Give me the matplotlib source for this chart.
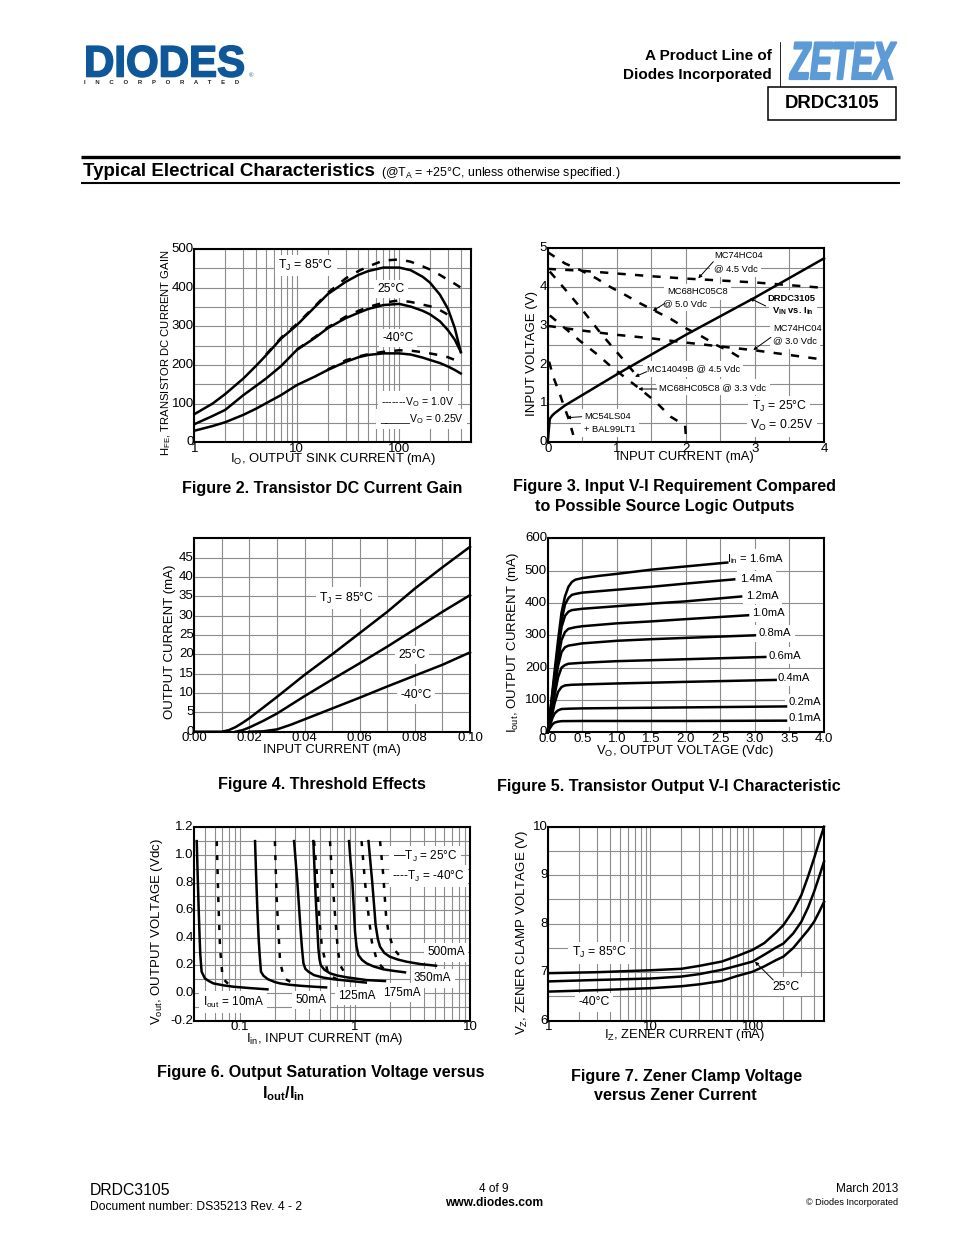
import matplotlib
matplotlib.use("Agg")
import matplotlib.pyplot as plt
from matplotlib.patches import Rectangle
from matplotlib.patheffects import AbstractPathEffect
from matplotlib.transforms import Affine2D, ScaledTranslation

plt.rcParams['font.family'] = ['Liberation Sans', 'DejaVu Sans']
plt.rcParams['mathtext.fontset'] = 'custom'
plt.rcParams['mathtext.rm'] = 'Liberation Sans'
plt.rcParams['mathtext.it'] = 'Liberation Sans:italic'
plt.rcParams['mathtext.bf'] = 'Liberation Sans:bold'
plt.rcParams['mathtext.default'] = 'regular'

W, H = 954, 1235
BLUE = '#0f5799'
LBLUE = '#5c9bd6'
GRID = '#8c8c8c'

# ---------- Figure 2 ----------
f2_x = [1, 1.5, 2, 3, 4, 5, 7, 10, 15, 20, 30, 40, 50, 70, 100, 130, 170, 200, 250, 300, 350, 400]
f2_85_s = [73, 100, 125, 165, 198, 225, 268, 303, 350, 383, 415, 433, 443, 452, 452, 445, 428, 413, 382, 345, 295, 233]
f2_25_s = [47, 68, 84, 122, 146, 165, 197, 239, 270, 295, 321, 335, 345, 355, 358, 351, 340, 331, 313, 290, 265, 234]
f2_40_s = [30, 42, 52, 71, 87, 101, 122, 148, 170, 187, 208, 220, 226, 230, 230, 227, 219, 213, 205, 196, 187, 178]
f2_85d_x = [5, 7, 10, 15, 20, 30, 40, 50, 70, 100, 130, 170, 200, 250, 300, 350, 400]
f2_85_d = [227, 270, 306, 352, 386, 424, 443, 455, 470, 473, 467, 455, 447, 433, 420, 410, 400]
f2_25d_x = [10, 15, 20, 30, 40, 50, 70, 100, 130, 170, 200, 250, 300]
f2_25_d = [240, 272, 297, 325, 340, 350, 361, 367, 363, 356, 352, 342, 330]
f2_40d_x = [20, 30, 40, 50, 70, 100, 130, 170, 200, 250, 300, 350, 400]
f2_40_d = [188, 212, 222, 228, 234, 238, 237, 233, 230, 225, 220, 213, 207]

# ---------- Figure 3 ----------
f3_drdc_x = [0, 0.01, 0.02, 0.03, 0.06, 0.1, 0.25, 1, 2, 3, 4]
f3_drdc_y = [0, 0.2, 0.4, 0.6, 0.68, 0.75, 0.95, 1.75, 2.77, 3.73, 4.74]
f3_hc45_x = [0, 0.5, 1, 1.5, 2, 2.5, 3, 3.5, 4]
f3_hc45_y = [4.47, 4.42, 4.35, 4.28, 4.22, 4.17, 4.12, 4.05, 3.98]
f3_hc30_x = [0, 0.5, 1, 1.5, 2, 2.5, 3, 3.5, 4]
f3_hc30_y = [3.0, 2.88, 2.77, 2.68, 2.57, 2.47, 2.37, 2.25, 2.13]
f3_c850_x = [0, 0.25, 0.47, 0.70, 0.90, 1.12, 1.34, 1.56, 1.78, 2.0, 2.22, 2.45, 2.64, 2.86]
f3_c850_y = [4.9, 4.61, 4.44, 4.23, 4.01, 3.80, 3.58, 3.38, 3.18, 2.94, 2.74, 2.50, 2.34, 2.10]
f3_c833_x = [0.03, 0.25, 0.47, 0.70, 0.90, 1.12, 1.34, 1.56, 1.78, 1.99, 2.0]
f3_c833_y = [3.27, 2.94, 2.61, 2.29, 1.98, 1.67, 1.37, 1.05, 0.66, 0.43, 0.15]
f3_4049_x = [0.03, 0.2, 0.4, 0.57, 0.75, 0.93, 1.12, 1.3]
f3_4049_y = [4.40, 4.05, 3.63, 3.26, 2.85, 2.47, 2.08, 1.69]
f3_ls04_x = [0.02, 0.08, 0.18, 0.23, 0.3, 0.37]
f3_ls04_y = [2.08, 1.69, 1.22, 0.96, 0.62, 0.19]

# ---------- Figure 4 ----------
f4_85_x = [0, 0.01, 0.0125, 0.015, 0.0175, 0.02, 0.03, 0.04, 0.05, 0.06, 0.07, 0.08, 0.09, 0.10]
f4_85_y = [0, 0, 0.4, 1.2, 2.3, 3.5, 9, 14.7, 20, 25.5, 31, 37, 42.5, 47.8]
f4_25_x = [0.015, 0.0175, 0.02, 0.025, 0.03, 0.04, 0.05, 0.06, 0.07, 0.08, 0.09, 0.10]
f4_25_y = [0, 0.4, 1.1, 2.8, 4.7, 9.2, 13.5, 17.7, 22, 26.5, 31, 35.3]
f4_40_x = [0.02, 0.025, 0.03, 0.035, 0.04, 0.05, 0.06, 0.07, 0.08, 0.09, 0.10]
f4_40_y = [0, 0.1, 0.6, 1.8, 3.2, 6, 8.8, 11.7, 14.5, 17.3, 20.5]

# ---------- Figure 5 ----------
f5_16_x = [0, .05, .1, .15, .2, .25, .3, .35, .4, .5, .75, 1, 1.5, 2, 2.6]
f5_16_y = [0, 90, 190, 285, 370, 420, 450, 465, 472, 477, 484, 490, 503, 513, 525]
f5_14_x = [0, .05, .1, .15, .2, .25, .3, .35, .4, .5, 1, 1.5, 2, 2.7]
f5_14_y = [0, 85, 175, 265, 345, 395, 415, 425, 428, 432, 441, 450, 460, 473]
f5_12_x = [0, .05, .1, .15, .2, .25, .3, .35, .5, 1, 1.5, 2, 2.8]
f5_12_y = [0, 80, 165, 250, 325, 360, 373, 378, 382, 390, 398, 405, 420]
f5_10_x = [0, .05, .1, .15, .2, .25, .3, .4, .5, 1, 1.5, 2, 2.9]
f5_10_y = [0, 75, 150, 225, 285, 310, 320, 325, 328, 337, 343, 350, 362]
f5_08_x = [0, .05, .1, .15, .2, .25, .3, .5, 1, 1.5, 2, 3.0]
f5_08_y = [0, 65, 135, 205, 248, 263, 268, 275, 283, 288, 292, 300]
f5_06_x = [0, .05, .1, .15, .2, .25, .3, .5, 1, 2, 3.15]
f5_06_y = [0, 55, 115, 170, 200, 208, 212, 215, 220, 226, 233]
f5_04_x = [0, .05, .1, .15, .2, .25, .35, .5, 1, 2, 3.3]
f5_04_y = [0, 40, 90, 125, 140, 145, 147, 148, 151, 156, 162]
f5_02_x = [0, .03, .07, .1, .15, .2, .3, .5, 1, 2, 3.45]
f5_02_y = [0, 20, 45, 58, 68, 72, 73, 74, 75, 77, 80]
f5_01_x = [0, .03, .07, .1, .15, .2, .5, 2, 3.45]
f5_01_y = [0, 12, 25, 30, 33, 34.5, 35, 35, 36]

# ---------- Figure 6 ----------
f6_10_x = [.042, .0428, .0437, .0445, .0451, .0463, .0494, .0533, .0586, .0716, .0875, .122, .173]
f6_10_y = [1.10, .85, .6, .4, .28, .155, .107, .088, .07, .056, .046, .036, .027]
f6_50_x = [.135, .138, .1415, .145, .148, .152, .16, .175, .2, .223, .27, .333, .44, .56]
f6_50_y = [1.10, .85, .6, .4, .28, .155, .125, .1, .08, .07, .06, .053, .046, .041]
f6_125_x = [.295, .305, .315, .326, .337, .346, .356, .37, .393, .44, .53, .65, .847, 1.24]
f6_125_y = [1.10, .95, .807, .62, .444, .32, .215, .175, .155, .13, .112, .1, .09, .076]
f6_175_x = [.434, .445, .455, .468, .48, .49, .503, .54, .606, .7, .847, 1.26, 1.82]
f6_175_y = [1.10, .88, .686, .5, .324, .25, .203, .17, .143, .127, .114, .094, .087]
f6_350_x = [.887, .915, .948, .975, 1.0, 1.03, 1.07, 1.15, 1.26, 1.45, 1.76, 2.2, 2.72]
f6_350_y = [1.10, .95, .807, .62, .444, .34, .275, .24, .215, .193, .172, .16, .15]
f6_500_x = [1.31, 1.36, 1.41, 1.46, 1.51, 1.58, 1.65, 1.8, 2.01, 2.35, 2.81, 3.7, 5.06]
f6_500_y = [1.10, .95, .807, .65, .493, .39, .336, .29, .263, .243, .227, .21, .198]
f6_10d_x = [0.0627, 0.0648, 0.067, 0.0706, 0.0818]
f6_10d_y = [1.10, 0.66, 0.324, 0.107, 0.053]
f6_50d_x = [0.201, 0.208, 0.223, 0.241, 0.291]
f6_50d_y = [1.10, 0.686, 0.227, 0.107, 0.07]
f6_125d_x = [0.44, 0.464, 0.486, 0.513, 0.586, 0.74]
f6_125d_y = [1.10, 0.88, 0.565, 0.347, 0.13, 0.09]
f6_175d_x = [0.606, 0.627, 0.67, 0.707, 0.74, 0.835]
f6_175d_y = [1.10, 0.88, 0.565, 0.324, 0.203, 0.13]
f6_350d_x = [1.14, 1.22, 1.31, 1.40, 1.56, 1.82]
f6_350d_y = [1.10, 0.807, 0.565, 0.372, 0.227, 0.167]
f6_500d_x = [1.65, 1.76, 1.86, 1.95, 2.15, 2.55]
f6_500d_y = [1.10, 0.855, 0.565, 0.444, 0.324, 0.251]

# ---------- Figure 7 ----------
f7_x = [1, 3, 10, 20, 30, 50, 70, 100, 130, 170, 200, 250, 300, 350, 400, 450, 500]
f7_85 = [6.98, 7.00, 7.04, 7.07, 7.13, 7.22, 7.33, 7.46, 7.60, 7.82, 7.97, 8.27, 8.59, 8.98, 9.35, 9.70, 10.0]
f7_25 = [6.81, 6.84, 6.87, 6.91, 6.96, 7.05, 7.13, 7.22, 7.36, 7.51, 7.59, 7.80, 8.04, 8.34, 8.66, 8.98, 9.28]
f7_40 = [6.60, 6.63, 6.67, 6.71, 6.75, 6.82, 6.92, 7.01, 7.12, 7.25, 7.32, 7.50, 7.70, 7.87, 8.04, 8.25, 8.45]

LOG_MINOR = [m * d for d in (0.01, 0.1, 1, 10, 100) for m in range(2, 10)]

fig = plt.figure(figsize=(W / 100, H / 100), dpi=100, facecolor='white')
page = fig.add_axes([0, 0, 1, 1], zorder=5)
page.set_xlim(0, W)
page.set_ylim(H, 0)
page.axis('off')
page.patch.set_alpha(0)


class Condense(AbstractPathEffect):
    """Draw real text squeezed horizontally, with a small stroke, for the logos."""

    def __init__(self, sx, x0, lw, color):
        super().__init__()
        self.sx, self.x0, self.lw, self.color = sx, x0, lw, color

    def draw_path(self, renderer, gc, tpath, affine, rgbFace=None):
        a = affine + Affine2D().translate(-self.x0, 0).scale(self.sx, 1).translate(self.x0, 0)
        g = renderer.new_gc()
        g.copy_properties(gc)
        g.set_foreground(self.color)
        g.set_linewidth(self.lw)
        renderer.draw_path(g, tpath, a, rgbFace)
        g.restore()


def px(p):
    return p / 1.389


def T(x, y, s, size, ha='left', weight='normal', color='black', **kw):
    return page.text(x, y, s, fontsize=px(size), ha=ha, va='center', weight=weight,
                     color=color, **kw)


def make_ax(l, t, r, b, xlim, ylim, xticks, xlabels, yticks, ylabels,
            xgrid, ygrid, logx=False):
    ax = fig.add_axes([l / W, 1 - b / H, (r - l) / W, (b - t) / H], zorder=1)
    if logx:
        ax.set_xscale('log')
    ax.set_xlim(*xlim)
    ax.set_ylim(*ylim)
    ax.set_xticks(xticks, xlabels)
    ax.set_yticks(yticks, ylabels)
    ax.set_xticks([g for g in xgrid if xlim[0] < g < xlim[1]], minor=True)
    ax.set_yticks([g for g in ygrid if ylim[0] < g < ylim[1]], minor=True)
    ax.xaxis.set_minor_formatter(plt.NullFormatter())
    ax.yaxis.set_minor_formatter(plt.NullFormatter())
    ax.tick_params(which='both', length=0, labelsize=px(13.2), pad=0.5)
    ax.tick_params(axis='y', which='major', pad=0.5)
    up = ScaledTranslation(0, 1.5 / 100, fig.dpi_scale_trans)
    for lab in ax.get_yticklabels():
        lab.set_transform(lab.get_transform() + up)
    ax.grid(True, which='both', color=GRID, lw=0.8, zorder=1)
    ax.set_axisbelow(True)
    for s in ax.spines.values():
        s.set_linewidth(1.5)
        s.set_zorder(6)
    return ax


def note(ax, x, y, s, size=12.3, **kw):
    """Label on the chart, white box hiding the grid but beneath the curves."""
    return ax.text(x, y, s, transform=page.transData, fontsize=px(size), ha=kw.pop('ha', 'center'),
                   va='center', zorder=2.5, clip_on=False,
                   bbox=dict(fc='white', ec='none', pad=2.5), **kw)


def leader(ax, x0, y0, x1, y1):
    ax.annotate('', xy=(x1, y1), xytext=(x0, y0), xycoords=page.transData,
                textcoords=page.transData, zorder=4,
                arrowprops=dict(arrowstyle='-|>', lw=0.7, color='black',
                                mutation_scale=5, shrinkA=0, shrinkB=0))


LW = 1.8
DASH = (0, (3.3, 3.7))
DASH6 = (0, (2.0, 3.6))


def solid(ax, x, y):
    ax.plot(x, y, color='black', lw=LW, solid_joinstyle='round', zorder=3, clip_on=False)


def dashed(ax, x, y, style=DASH):
    ax.plot(x, y, color='black', lw=LW, linestyle=style, zorder=3, clip_on=False)


# ---------- page furniture ----------
T(84, 65, 'DIODES', 44, weight='bold', color=BLUE,
  path_effects=[Condense(0.955, 84, 1.2, BLUE)])
T(84, 83, 'I      N      C      O      R      P      O      R      A      T      E      D', 6.0, weight='bold', color='#222222')
T(249, 75.5, '®', 6, color=BLUE)
T(772, 55.5, 'A Product Line of', 15.2, ha='right', weight='bold')
T(772, 75.5, 'Diodes Incorporated', 15.2, ha='right', weight='bold')
page.plot([780.5, 780.5], [42, 86], color='black', lw=0.6)
T(842.5, 65, 'ZETEX', 53, ha='center', weight='bold', color=LBLUE, style='italic',
  path_effects=[Condense(0.61, 842.5, 1.6, LBLUE)])
page.add_patch(Rectangle((768, 87), 128, 33, fc='white', ec='black', lw=1.1))
T(832, 104, 'DRDC3105', 18.5, ha='center', weight='bold')
page.plot([81, 900], [156.5, 156.5], color='black', lw=2.4, solid_capstyle='butt')
page.plot([81, 900], [183, 183], color='black', lw=1.5, solid_capstyle='butt')
T(83, 171.5, 'Typical Electrical Characteristics', 18.8, weight='bold')
T(381, 173, r'(@T$_{A}$ = +25°C, unless otherwise specified.)', 12.4)
T(90, 1190.5, 'DRDC3105', 15.8)
T(90, 1206.5, 'Document number: DS35213 Rev. 4 - 2', 12.1)
T(494, 1188.5, '4 of 9', 11.8, ha='center')
T(494, 1202.5, 'www.diodes.com', 12, ha='center', weight='bold')
T(898, 1189.5, 'March 2013', 11.8, ha='right')
T(898, 1202.5, '© Diodes Incorporated', 9.2, ha='right')

# ---------- captions ----------
CAP = 16.1
T(322, 489, 'Figure 2. Transistor DC Current Gain', CAP, ha='center', weight='bold')
T(674.5, 486.5, 'Figure 3. Input V-I Requirement Compared', CAP, ha='center', weight='bold')
T(664.5, 507, 'to Possible Source Logic Outputs', CAP, ha='center', weight='bold')
T(322, 785, 'Figure 4. Threshold Effects', CAP, ha='center', weight='bold')
T(668.5, 787, 'Figure 5. Transistor Output V-I Characteristic', CAP, ha='center', weight='bold')
T(321, 1072.5, 'Figure 6. Output Saturation Voltage versus', CAP, ha='center', weight='bold')
T(284, 1094, r'I$_{\mathbf{out}}$/I$_{\mathbf{in}}$', CAP, ha='center', weight='bold')
T(687, 1076.5, 'Figure 7. Zener Clamp Voltage', CAP, ha='center', weight='bold')
T(675, 1096, 'versus Zener Current', CAP, ha='center', weight='bold')

# ---------- axis titles ----------
AX = 13.0
AY = 13.2
T(332.7, 459, r'I$_{O}$, OUTPUT SINK CURRENT (mA)', AX, ha='center')
T(166, 353, r'H$_{FE}$, TRANSISTOR DC CURRENT GAIN', 11.3, ha='center', rotation=90)
T(685, 456.7, 'INPUT CURRENT (mA)', AX, ha='center')
T(531.7, 353, 'INPUT VOLTAGE (V)', AY, ha='center', rotation=90)
T(331.7, 749.5, 'INPUT CURRENT (mA)', AX, ha='center')
T(170, 642, 'OUTPUT CURRENT (mA)', AY, ha='center', rotation=90)
T(685, 750.7, r'V$_{O}$, OUTPUT VOLTAGE (Vdc)', AX, ha='center')
T(513, 643, r'I$_{out}$, OUTPUT CURRENT (mA)', AY, ha='center', rotation=90)
T(325, 1039, r'I$_{in}$, INPUT CURRENT (mA)', AX, ha='center')
T(156.7, 932, r'V$_{out}$, OUTPUT VOLTAGE (Vdc)', AY, ha='center', rotation=90)
T(685, 1035, r'I$_{Z}$, ZENER CURRENT (mA)', AX, ha='center')
T(521.7, 932, r'V$_{Z}$, ZENER CLAMP VOLTAGE (V)', AY, ha='center', rotation=90)

# ---------- Figure 2 ----------
ax = make_ax(194.5, 249, 470.7, 442.3, (1, 500), (0, 500), [1, 10, 100], ['1', '10', '100'],
             [0, 100, 200, 300, 400, 500], ['0', '100', '200', '300', '400', '500'],
             LOG_MINOR + [10, 100], range(50, 500, 50), logx=True)
solid(ax, f2_x, f2_85_s)
dashed(ax, f2_85d_x, f2_85_d)
solid(ax, f2_x, f2_25_s)
dashed(ax, f2_25d_x, f2_25_d)
solid(ax, f2_x, f2_40_s)
dashed(ax, f2_40d_x, f2_40_d)
note(ax, 306, 265.5, r'T$_{J}$ = 85°C')
note(ax, 390.7, 289, '25°C')
note(ax, 398, 338, '-40°C')
note(ax, 418, 401.7, r'-------V$_{O}$ = 1.0V', size=10.5)
note(ax, 421.7, 419, r'_____V$_{O}$ = 0.25V', size=10.5)

# ---------- Figure 3 ----------
ax = make_ax(547.7, 248.3, 824, 442.3, (0, 4), (0, 5), [0, 1, 2, 3, 4], ['0', '1', '2', '3', '4'],
             [0, 1, 2, 3, 4, 5], ['0', '1', '2', '3', '4', '5'],
             [0.5 * i for i in range(1, 8)], [0.5 * i for i in range(1, 10)])
solid(ax, f3_drdc_x, f3_drdc_y)
for xs, ys in [(f3_hc45_x, f3_hc45_y), (f3_hc30_x, f3_hc30_y), (f3_c850_x, f3_c850_y),
               (f3_c833_x, f3_c833_y), (f3_4049_x, f3_4049_y), (f3_ls04_x, f3_ls04_y)]:
    dashed(ax, xs, ys)
S = 9.4
note(ax, 739, 256, 'MC74HC04', size=S)
note(ax, 735.7, 269, '@ 4.5 Vdc', size=S)
note(ax, 697.7, 291.7, 'MC68HC05C8', size=S)
note(ax, 685, 303.3, '@ 5.0 Vdc', size=S)
note(ax, 791.7, 298.3, 'DRDC3105', size=S, weight='bold')
note(ax, 793, 311, r'V$_{\mathbf{IN}}$ vs. I$_{\mathbf{in}}$', size=S, weight='bold')
note(ax, 797.7, 328.3, 'MC74HC04', size=S)
note(ax, 795, 340.7, '@ 3.0 Vdc', size=S)
note(ax, 693.3, 369, 'MC14049B @ 4.5 Vdc', size=S)
note(ax, 712.7, 387.3, 'MC68HC05C8 @ 3.3 Vdc', size=S)
note(ax, 779.3, 406.7, r'T$_{J}$ = 25°C')
note(ax, 781.7, 425.7, r'V$_{O}$ = 0.25V')
note(ax, 608, 416.7, 'MC54LS04', size=S)
note(ax, 610, 429, '+ BAL99LT1', size=S)
leader(ax, 713.3, 261.7, 698.3, 278.3)
leader(ax, 665, 303.3, 652.7, 311)
leader(ax, 765.7, 306, 750, 298.3)
leader(ax, 771, 337.3, 753.3, 350)
leader(ax, 646.7, 371.7, 635, 376.7)
leader(ax, 656.7, 389, 638.3, 389)
leader(ax, 581.7, 416.7, 566.7, 417.7)

# ---------- Figure 4 ----------
labels4 = ['0.00', '0.02', '0.04', '0.06', '0.08', '0.10']
ax = make_ax(194.3, 538.3, 470, 731.7, (0, 0.1), (0, 50), [0, 0.02, 0.04, 0.06, 0.08, 0.10], labels4,
             list(range(0, 50, 5)), [str(v) for v in range(0, 50, 5)],
             [0.01 * i for i in range(1, 10)], range(5, 50, 5))
solid(ax, f4_85_x, f4_85_y)
solid(ax, f4_25_x, f4_25_y)
solid(ax, f4_40_x, f4_40_y)
note(ax, 346.7, 598.3, r'T$_{J}$ = 85°C')
note(ax, 411.7, 655, '25°C')
note(ax, 415.7, 695, '-40°C')

# ---------- Figure 5 ----------
ax = make_ax(547.7, 538.3, 824, 732.3, (0, 4), (0, 600),
             [0.5 * i for i in range(9)], ['0.0', '0.5', '1.0', '1.5', '2.0', '2.5', '3.0', '3.5', '4.0'],
             list(range(0, 700, 100)), [str(v) for v in range(0, 700, 100)],
             [0.5 * i for i in range(1, 8)], range(100, 600, 100))
for xs, ys in [(f5_16_x, f5_16_y), (f5_14_x, f5_14_y), (f5_12_x, f5_12_y), (f5_10_x, f5_10_y),
               (f5_08_x, f5_08_y), (f5_06_x, f5_06_y), (f5_04_x, f5_04_y), (f5_02_x, f5_02_y),
               (f5_01_x, f5_01_y)]:
    solid(ax, xs, ys)
S5 = 11.2
note(ax, 755, 559.3, r'I$_{in}$ = 1.6mA', size=S5)
note(ax, 756.7, 579.3, '1.4mA', size=S5)
note(ax, 762.7, 596, '1.2mA', size=S5)
note(ax, 768.3, 613.3, '1.0mA', size=S5)
note(ax, 775, 633.3, '0.8mA', size=S5)
note(ax, 785, 655.7, '0.6mA', size=S5)
note(ax, 793.3, 677.7, '0.4mA', size=S5)
note(ax, 805, 702.3, '0.2mA', size=S5)
note(ax, 805, 718.3, '0.1mA', size=S5)

# ---------- Figure 6 ----------
ax = make_ax(194.3, 827.3, 470, 1020.7, (0.04, 10), (-0.2, 1.2), [0.1, 1, 10], ['0.1', '1', '10'],
             [-0.2, 0, 0.2, 0.4, 0.6, 0.8, 1.0, 1.2], ['-0.2', '0.0', '0.2', '0.4', '0.6', '0.8', '1.0', '1.2'],
             LOG_MINOR + [0.1, 1], [-0.1 + 0.1 * i for i in range(13)], logx=True)
for xs, ys in [(f6_10_x, f6_10_y), (f6_50_x, f6_50_y), (f6_125_x, f6_125_y),
               (f6_175_x, f6_175_y), (f6_350_x, f6_350_y), (f6_500_x, f6_500_y)]:
    solid(ax, xs, ys)
for xs, ys in [(f6_10d_x, f6_10d_y), (f6_50d_x, f6_50d_y), (f6_125d_x, f6_125d_y),
               (f6_175d_x, f6_175d_y), (f6_350d_x, f6_350d_y), (f6_500d_x, f6_500d_y)]:
    dashed(ax, xs, ys, DASH6)
note(ax, 425, 856.7, r'—T$_{J}$ = 25°C', size=11.8)
note(ax, 428.3, 876, r'----T$_{J}$ = -40°C', size=11.8)
note(ax, 446, 952.3, '500mA', size=11.8)
note(ax, 432.7, 978.3, '350mA', size=11.8)
note(ax, 401.7, 992.7, '175mA', size=11.8)
note(ax, 356.7, 996, '125mA', size=11.8)
note(ax, 310.7, 1000, '50mA', size=11.8)
note(ax, 233.3, 1002.3, r'I$_{out}$ = 10mA', size=11.8)

# ---------- Figure 7 ----------
ax = make_ax(548.3, 826.7, 824, 1020.7, (1, 500), (6, 10), [1, 10, 100], ['1', '10', '100'],
             [6, 7, 8, 9, 10], ['6', '7', '8', '9', '10'],
             LOG_MINOR + [10, 100], [6.5, 7, 7.5, 8, 8.5, 9, 9.5], logx=True)
solid(ax, f7_x, f7_85)
solid(ax, f7_x, f7_25)
solid(ax, f7_x, f7_40)
note(ax, 599.3, 952.7, r'T$_{J}$ = 85°C')
note(ax, 786, 986.7, '25°C')
note(ax, 594.3, 1002.3, '-40°C')
leader(ax, 773.3, 980, 755, 961.7)

fig.savefig('out.png', dpi=100)
